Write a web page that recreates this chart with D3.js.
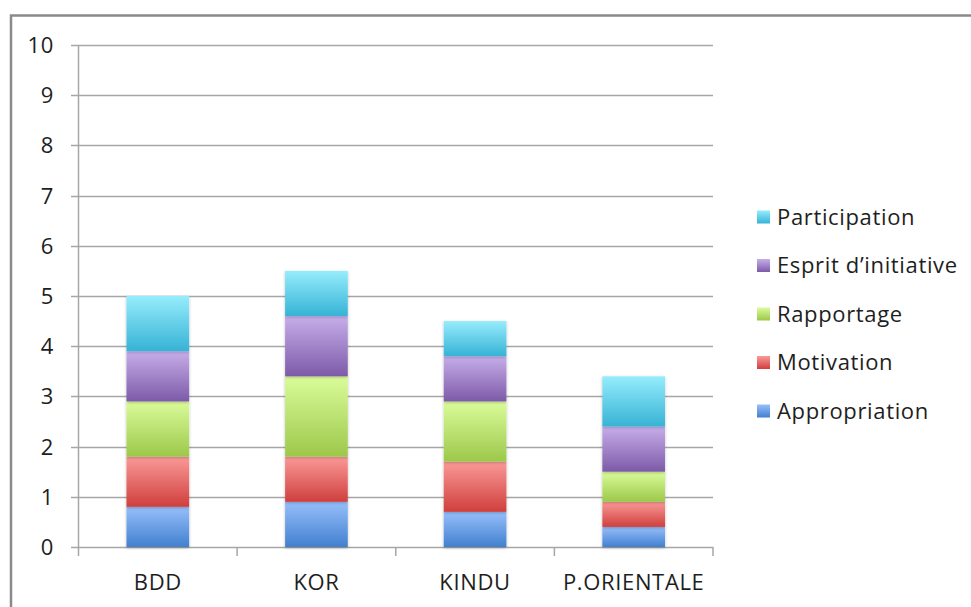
<!DOCTYPE html>
<html><head><meta charset="utf-8">
<script src="https://cdn.jsdelivr.net/npm/d3@7"></script>
<style>body{margin:0;background:#fff}svg{display:block}</style>
</head><body>
<script>
const categories = ["BDD","KOR","KINDU","P.ORIENTALE"];
const seriesNames = ["Appropriation","Motivation","Rapportage","Esprit d\u2019initiative","Participation"];
const appropriation = [0.8,0.9,0.7,0.4];
const motivation = [1.0,0.9,1.0,0.5];
const rapportage = [1.1,1.6,1.2,0.6];
const esprit = [1.0,1.2,0.9,0.9];
const participation = [1.1,0.9,0.7,1.0];
const yTicks = [0,1,2,3,4,5,6,7,8,9,10];
const colorsLight = ["#97bffb","#fa9a98","#dafc9a","#c7aeea","#96ecfc"];
const colorsDark  = ["#4180cf","#cf3f3d","#9cc84a","#7d5aa8","#36b3d5"];

const W=971,H=607;
const svg=d3.select("body").append("svg").attr("width",W).attr("height",H);
const font="'Open Sans', 'Liberation Sans', Arial, sans-serif";
const fs=22, ls="0.65px";
const defs=svg.append("defs");
seriesNames.forEach((s,i)=>{
  const g=defs.append("linearGradient").attr("id","g"+i).attr("x1",0).attr("y1",0).attr("x2",0).attr("y2",1);
  g.append("stop").attr("offset","0%").attr("stop-color",colorsLight[i]);
  g.append("stop").attr("offset","100%").attr("stop-color",colorsDark[i]);
});
const f=defs.append("filter").attr("id","sh").attr("x","-20%").attr("y","-20%").attr("width","140%").attr("height","140%");
f.append("feDropShadow").attr("dx",0).attr("dy",1).attr("stdDeviation",1.5).attr("flood-color","#000").attr("flood-opacity",0.25);

// outer border
svg.append("rect").attr("x",11).attr("y",15.5).attr("width",W).attr("height",H)
  .attr("fill","none").attr("stroke","#8a8a8a").attr("stroke-width",2.5);

const x0=78.5,x1=713,yTop=45,yBot=547;
const x=d3.scaleBand().domain(categories).range([x0,x1]).paddingInner(0.605).paddingOuter(0.3025);
const y=d3.scaleLinear().domain([0,10]).range([yBot,yTop]);

// gridlines
svg.append("g").selectAll("line").data(yTicks).join("line")
  .attr("x1",71).attr("x2",x1).attr("y1",d=>Math.round(y(d))+0.5).attr("y2",d=>Math.round(y(d))+0.5)
  .attr("stroke","#a6a6a6").attr("stroke-width",1.5);
// y axis line
svg.append("line").attr("x1",x0).attr("x2",x0).attr("y1",yTop).attr("y2",yBot).attr("stroke","#a6a6a6").attr("stroke-width",1.5);
// y labels
svg.append("g").selectAll("text").data(yTicks).join("text")
  .attr("x",54).attr("y",d=>y(d)).attr("dy","0.36em").attr("text-anchor","end")
  .attr("font-family",font).attr("font-size",fs).attr("letter-spacing",ls).attr("fill","#1e1e1e").text(d=>d);

// x ticks
const step=(x1-x0)/categories.length;
svg.append("g").selectAll("line").data(d3.range(categories.length+1)).join("line")
  .attr("x1",d=>x0+d*step).attr("x2",d=>x0+d*step).attr("y1",yBot).attr("y2",556)
  .attr("stroke","#a6a6a6").attr("stroke-width",1.5);

// stack
const rows=categories.map((c,i)=>({cat:c,s0:appropriation[i],s1:motivation[i],s2:rapportage[i],s3:esprit[i],s4:participation[i]}));
const stack=d3.stack().keys(["s0","s1","s2","s3","s4"])(rows);
const barsG=svg.append("g");
stack.forEach((layer,i)=>{
  barsG.append("g").selectAll("rect").data(layer).join("rect")
    .attr("x",d=>x(d.data.cat)).attr("width",x.bandwidth())
    .attr("y",d=>y(d[1])).attr("height",d=>y(d[0])-y(d[1]))
    .attr("fill","url(#g"+i+")").attr("filter","url(#sh)");
});

// x labels
svg.append("g").selectAll("text").data(categories).join("text")
  .attr("x",d=>x(d)+x.bandwidth()/2).attr("y",590).attr("text-anchor","middle")
  .attr("font-family",font).attr("font-size",fs).attr("letter-spacing",ls).attr("fill","#1e1e1e").text(d=>d);

// legend (reverse order)
const legendOrder=[4,3,2,1,0];
const lg=svg.append("g");
legendOrder.forEach((si,k)=>{
  const cy=217+k*48.5;
  lg.append("rect").attr("x",757).attr("y",cy-6.5).attr("width",13).attr("height",13).attr("fill","url(#g"+si+")");
  lg.append("text").attr("x",777).attr("y",cy).attr("dy","0.36em")
    .attr("font-family",font).attr("font-size",fs).attr("letter-spacing",ls).attr("fill","#1e1e1e").text(seriesNames[si]);
});
</script>
</body></html>
